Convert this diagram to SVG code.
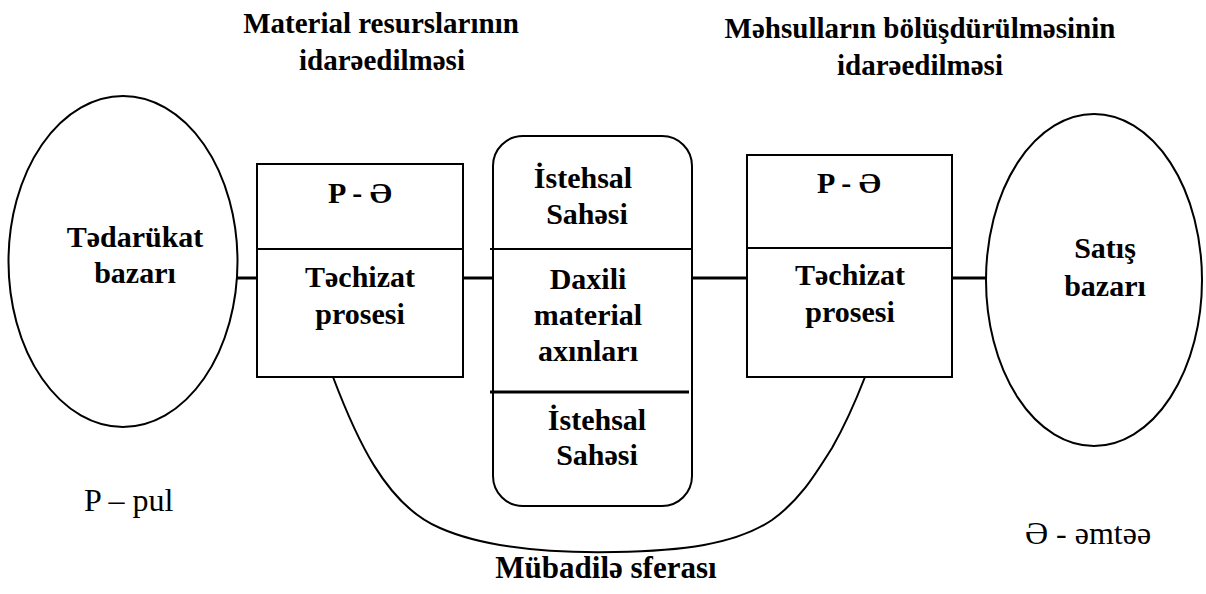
<svg xmlns="http://www.w3.org/2000/svg" width="1206" height="594" viewBox="0 0 1206 594">
<style>
.s{fill:none;stroke:#000;stroke-width:2}
.c{fill:none;stroke:#000;stroke-width:3}
.b{font-family:"Liberation Serif","Times New Roman",serif;font-weight:bold;font-size:30px;text-anchor:middle;fill:#000}
.t{font-family:"Liberation Serif","Times New Roman",serif;font-weight:bold;font-size:29px;text-anchor:middle;fill:#000}
.r{font-family:"Liberation Serif","Times New Roman",serif;font-size:32px;fill:#000}
</style>
<rect width="1206" height="594" fill="#fff"/>
<g id="connectors">
<line class="c" x1="237" y1="278" x2="257" y2="278"/>
<line class="c" x1="463" y1="278" x2="493" y2="278"/>
<line class="c" x1="692" y1="278" x2="747" y2="278"/>
<line class="c" x1="952" y1="278" x2="987" y2="278"/>
<path class="s" d="M333,377 C355,435 385,505 440,528 C490,550 560,553 615,552 C680,551 735,545 772,520 C800,500 815,475 832,448 C848,420 858,395 865,377"/>
</g>
<g id="title-left">
<text class="t" x="381" y="33">Material resurslarının</text>
<text class="t" x="382" y="70">idarəedilməsi</text>
</g>
<g id="title-right">
<text class="t" x="920" y="38">Məhsulların bölüşdürülməsinin</text>
<text class="t" x="920" y="75">idarəedilməsi</text>
</g>
<g id="tedarukat">
<ellipse class="s" cx="123" cy="261.5" rx="114.5" ry="165.5"/>
<text class="b" x="135" y="247">Tədarükat</text>
<text class="b" x="135" y="283">bazarı</text>
</g>
<g id="box-left">
<rect class="s" x="257" y="164" width="206" height="213"/>
<line class="s" x1="257" y1="249" x2="463" y2="249"/>
<text class="b" x="360" y="203">P - Ə</text>
<text class="b" x="360" y="287">Təchizat</text>
<text class="b" x="360" y="324">prosesi</text>
</g>
<g id="box-middle">
<rect class="s" x="493" y="136" width="199" height="370" rx="30" ry="30"/>
<line class="s" x1="490" y1="249" x2="692" y2="249"/>
<line class="c" x1="490" y1="392" x2="689" y2="392"/>
<text class="b" x="583" y="188">İstehsal</text>
<text class="b" x="587" y="224">Sahəsi</text>
<text class="b" x="588" y="289">Daxili</text>
<text class="b" x="588" y="325">material</text>
<text class="b" x="588" y="361">axınları</text>
<text class="b" x="597" y="430">İstehsal</text>
<text class="b" x="597" y="465">Sahəsi</text>
</g>
<g id="box-right">
<rect class="s" x="747" y="155" width="205" height="222"/>
<line class="s" x1="747" y1="248" x2="952" y2="248"/>
<text class="b" x="849" y="193">P - Ə</text>
<text class="b" x="850" y="285">Təchizat</text>
<text class="b" x="850" y="322">prosesi</text>
</g>
<g id="satis">
<ellipse class="s" cx="1094" cy="280" rx="108" ry="166"/>
<text class="b" x="1105" y="258">Satış</text>
<text class="b" x="1105" y="296">bazarı</text>
</g>
<g id="legend">
<text class="r" x="84" y="511">P – pul</text>
<text class="r" x="1025" y="544">Ə - əmtəə</text>
<text class="t" x="606" y="578" style="font-size:31px">Mübadilə sferası</text>
</g>
</svg>
